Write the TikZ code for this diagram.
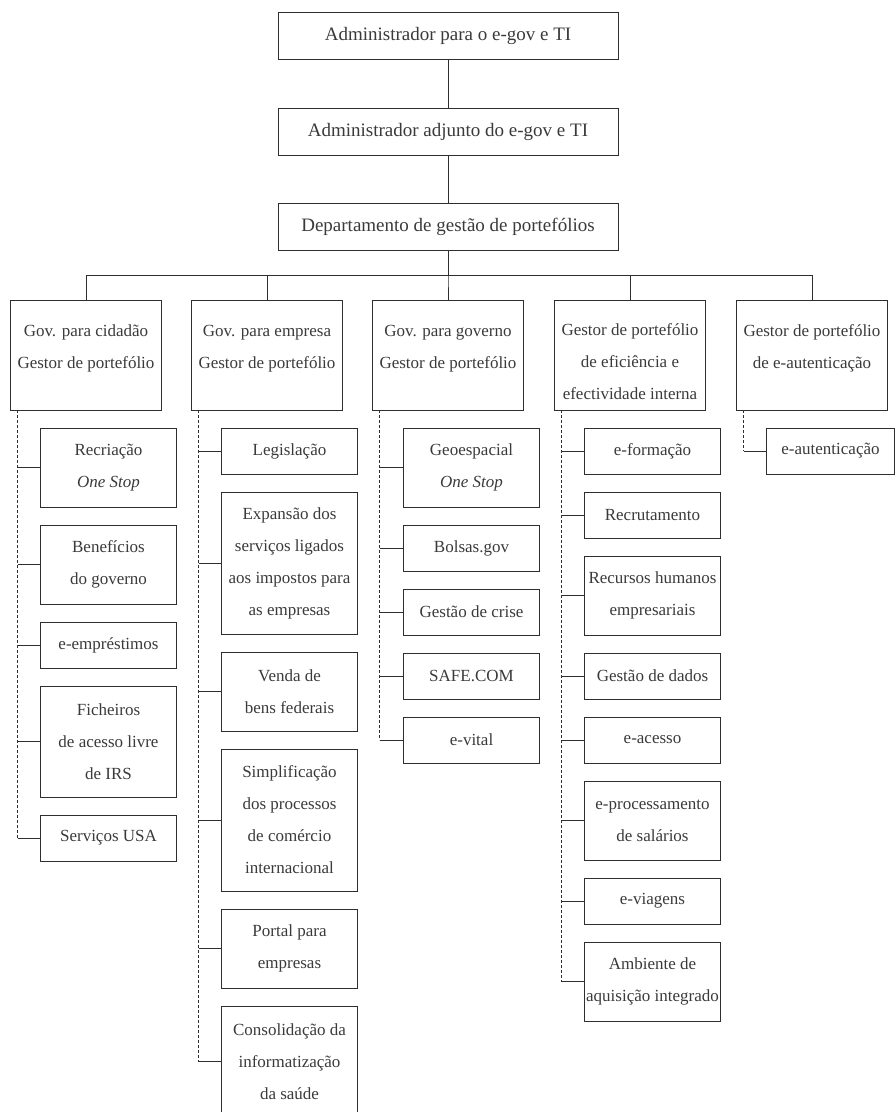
\documentclass[tikz,border=0pt]{standalone}
\usepackage{fontspec}
\setmainfont{Liberation Serif}
\usepackage{xcolor}
\usetikzlibrary{positioning}
\definecolor{Ink}{HTML}{3A3A3A}
\definecolor{Rule}{HTML}{2E2E2E}
\newcommand{\hdstrut}{\rule{0pt}{26pt}}

\begin{document}
\begin{tikzpicture}[
  x=1pt,y=1pt,
  node distance=18pt,
  every node/.style={font=\fontsize{17}{32}\selectfont,text=Ink},
  topbox/.style={draw=Rule,line width=0.8pt,outer sep=0pt,minimum width=340pt,minimum height=47pt,inner sep=0pt,font=\fontsize{19}{32}\selectfont},
  headbox/.style={draw=Rule,line width=0.8pt,outer sep=0pt,minimum width=151pt,minimum height=110pt,align=center,inner sep=0pt},
  itembox/.style={draw=Rule,line width=0.8pt,outer sep=0pt,minimum width=136pt,align=center,inner sep=0pt},
  oneline/.style={itembox,minimum height=46pt},
  twoline/.style={itembox,minimum height=79pt},
  threeline/.style={itembox,minimum height=111pt},
  fourline/.style={itembox,minimum height=142pt},
  tie/.style={draw=Rule,line width=0.8pt},
  spine/.style={tie,dash pattern=on 3pt off 2pt}
]
\useasboundingbox (0,0) rectangle (895,-1112);
\clip (0,0) rectangle (895,-1112);

% top of the chart
\node[topbox] (adm) at (448,-35.5) {Administrador para o e-gov e TI};
\node[topbox,below=49pt of adm] (adj) {Administrador adjunto do e-gov e TI};
\node[topbox,below=48pt of adj] (dep) {Departamento de gestão de portefólios};

% portfolio managers
\node[headbox,below=50pt of dep] (gov) {\hdstrut Gov. para governo\\Gestor de portefólio\\~};
\node[headbox,left=30pt of gov] (emp) {\hdstrut Gov. para empresa\\Gestor de portefólio\\~};
\node[headbox,left=30pt of emp] (cid) {\hdstrut Gov. para cidadão\\Gestor de portefólio\\~};
\node[headbox,right=31pt of gov] (efi) {\hdstrut Gestor de portefólio\\de eficiência e\\efectividade interna};
\node[headbox,right=31pt of efi] (aut) {\hdstrut Gestor de portefólio\\de e-autenticação\\~};

% citizens
\node[twoline,below=18pt of cid,xshift=22.5pt] (cid1) {Recriação\\\textit{One Stop}};
\node[twoline,below=of cid1] (cid2) {Benefícios\\do governo};
\node[oneline,below=of cid2] (cid3) {e-empréstimos};
\node[threeline,below=of cid3] (cid4) {Ficheiros\\de acesso livre\\de IRS};
\node[oneline,below=of cid4] (cid5) {Serviços USA};

% business
\node[oneline,below=18pt of emp,xshift=22.5pt] (emp1) {Legislação};
\node[fourline,below=of emp1] (emp2) {Expansão dos\\serviços ligados\\aos impostos para\\as empresas};
\node[twoline,below=of emp2] (emp3) {Venda de\\bens federais};
\node[fourline,below=of emp3] (emp4) {Simplificação\\dos processos\\de comércio\\internacional};
\node[twoline,below=of emp4] (emp5) {Portal para\\empresas};
\node[threeline,below=of emp5] (emp6) {Consolidação da\\informatização\\da saúde};

% government
\node[twoline,below=18pt of gov,xshift=23.5pt] (gov1) {Geoespacial\\\textit{One Stop}};
\node[oneline,below=of gov1] (gov2) {Bolsas.gov};
\node[oneline,below=of gov2] (gov3) {Gestão de crise};
\node[oneline,below=of gov3] (gov4) {SAFE.COM};
\node[oneline,below=of gov4] (gov5) {e-vital};

% internal efficiency
\node[oneline,below=18pt of efi,xshift=22.5pt] (efi1) {e-formação};
\node[oneline,below=of efi1] (efi2) {Recrutamento};
\node[twoline,below=of efi2] (efi3) {Recursos humanos\\empresariais};
\node[oneline,below=of efi3] (efi4) {Gestão de dados};
\node[oneline,below=of efi4] (efi5) {e-acesso};
\node[twoline,below=of efi5] (efi6) {e-processamento\\de salários};
\node[oneline,below=of efi6] (efi7) {e-viagens};
\node[twoline,below=of efi7] (efi8) {Ambiente de\\aquisição integrado};

% authentication
\node[oneline,minimum width=128pt,below=18pt of aut,xshift=18.5pt] (aut1) {e-autenticação};

\draw[tie] (adm) -- (adj);
\draw[tie] (adj) -- (dep);
\foreach \c in {cid,emp,gov,efi,aut} \draw[tie] (dep.south) -- ++(0,-25pt) -| (\c.north);

\foreach \h/\last in {cid/cid5,emp/emp6,gov/gov5,efi/efi8,aut/aut1}
  \draw[spine] ([xshift=7pt]\h.south west) -- ([xshift=7pt]\h.south west |- \last.west);
\foreach \h/\k in {cid/cid1,cid/cid2,cid/cid3,cid/cid4,cid/cid5,
                   emp/emp1,emp/emp2,emp/emp3,emp/emp4,emp/emp5,emp/emp6,
                   gov/gov1,gov/gov2,gov/gov3,gov/gov4,gov/gov5,
                   efi/efi1,efi/efi2,efi/efi3,efi/efi4,efi/efi5,efi/efi6,efi/efi7,efi/efi8,
                   aut/aut1}
  \draw[tie] ([xshift=7pt]\h.south west |- \k.west) -- (\k.west);
\end{tikzpicture}
\end{document}
